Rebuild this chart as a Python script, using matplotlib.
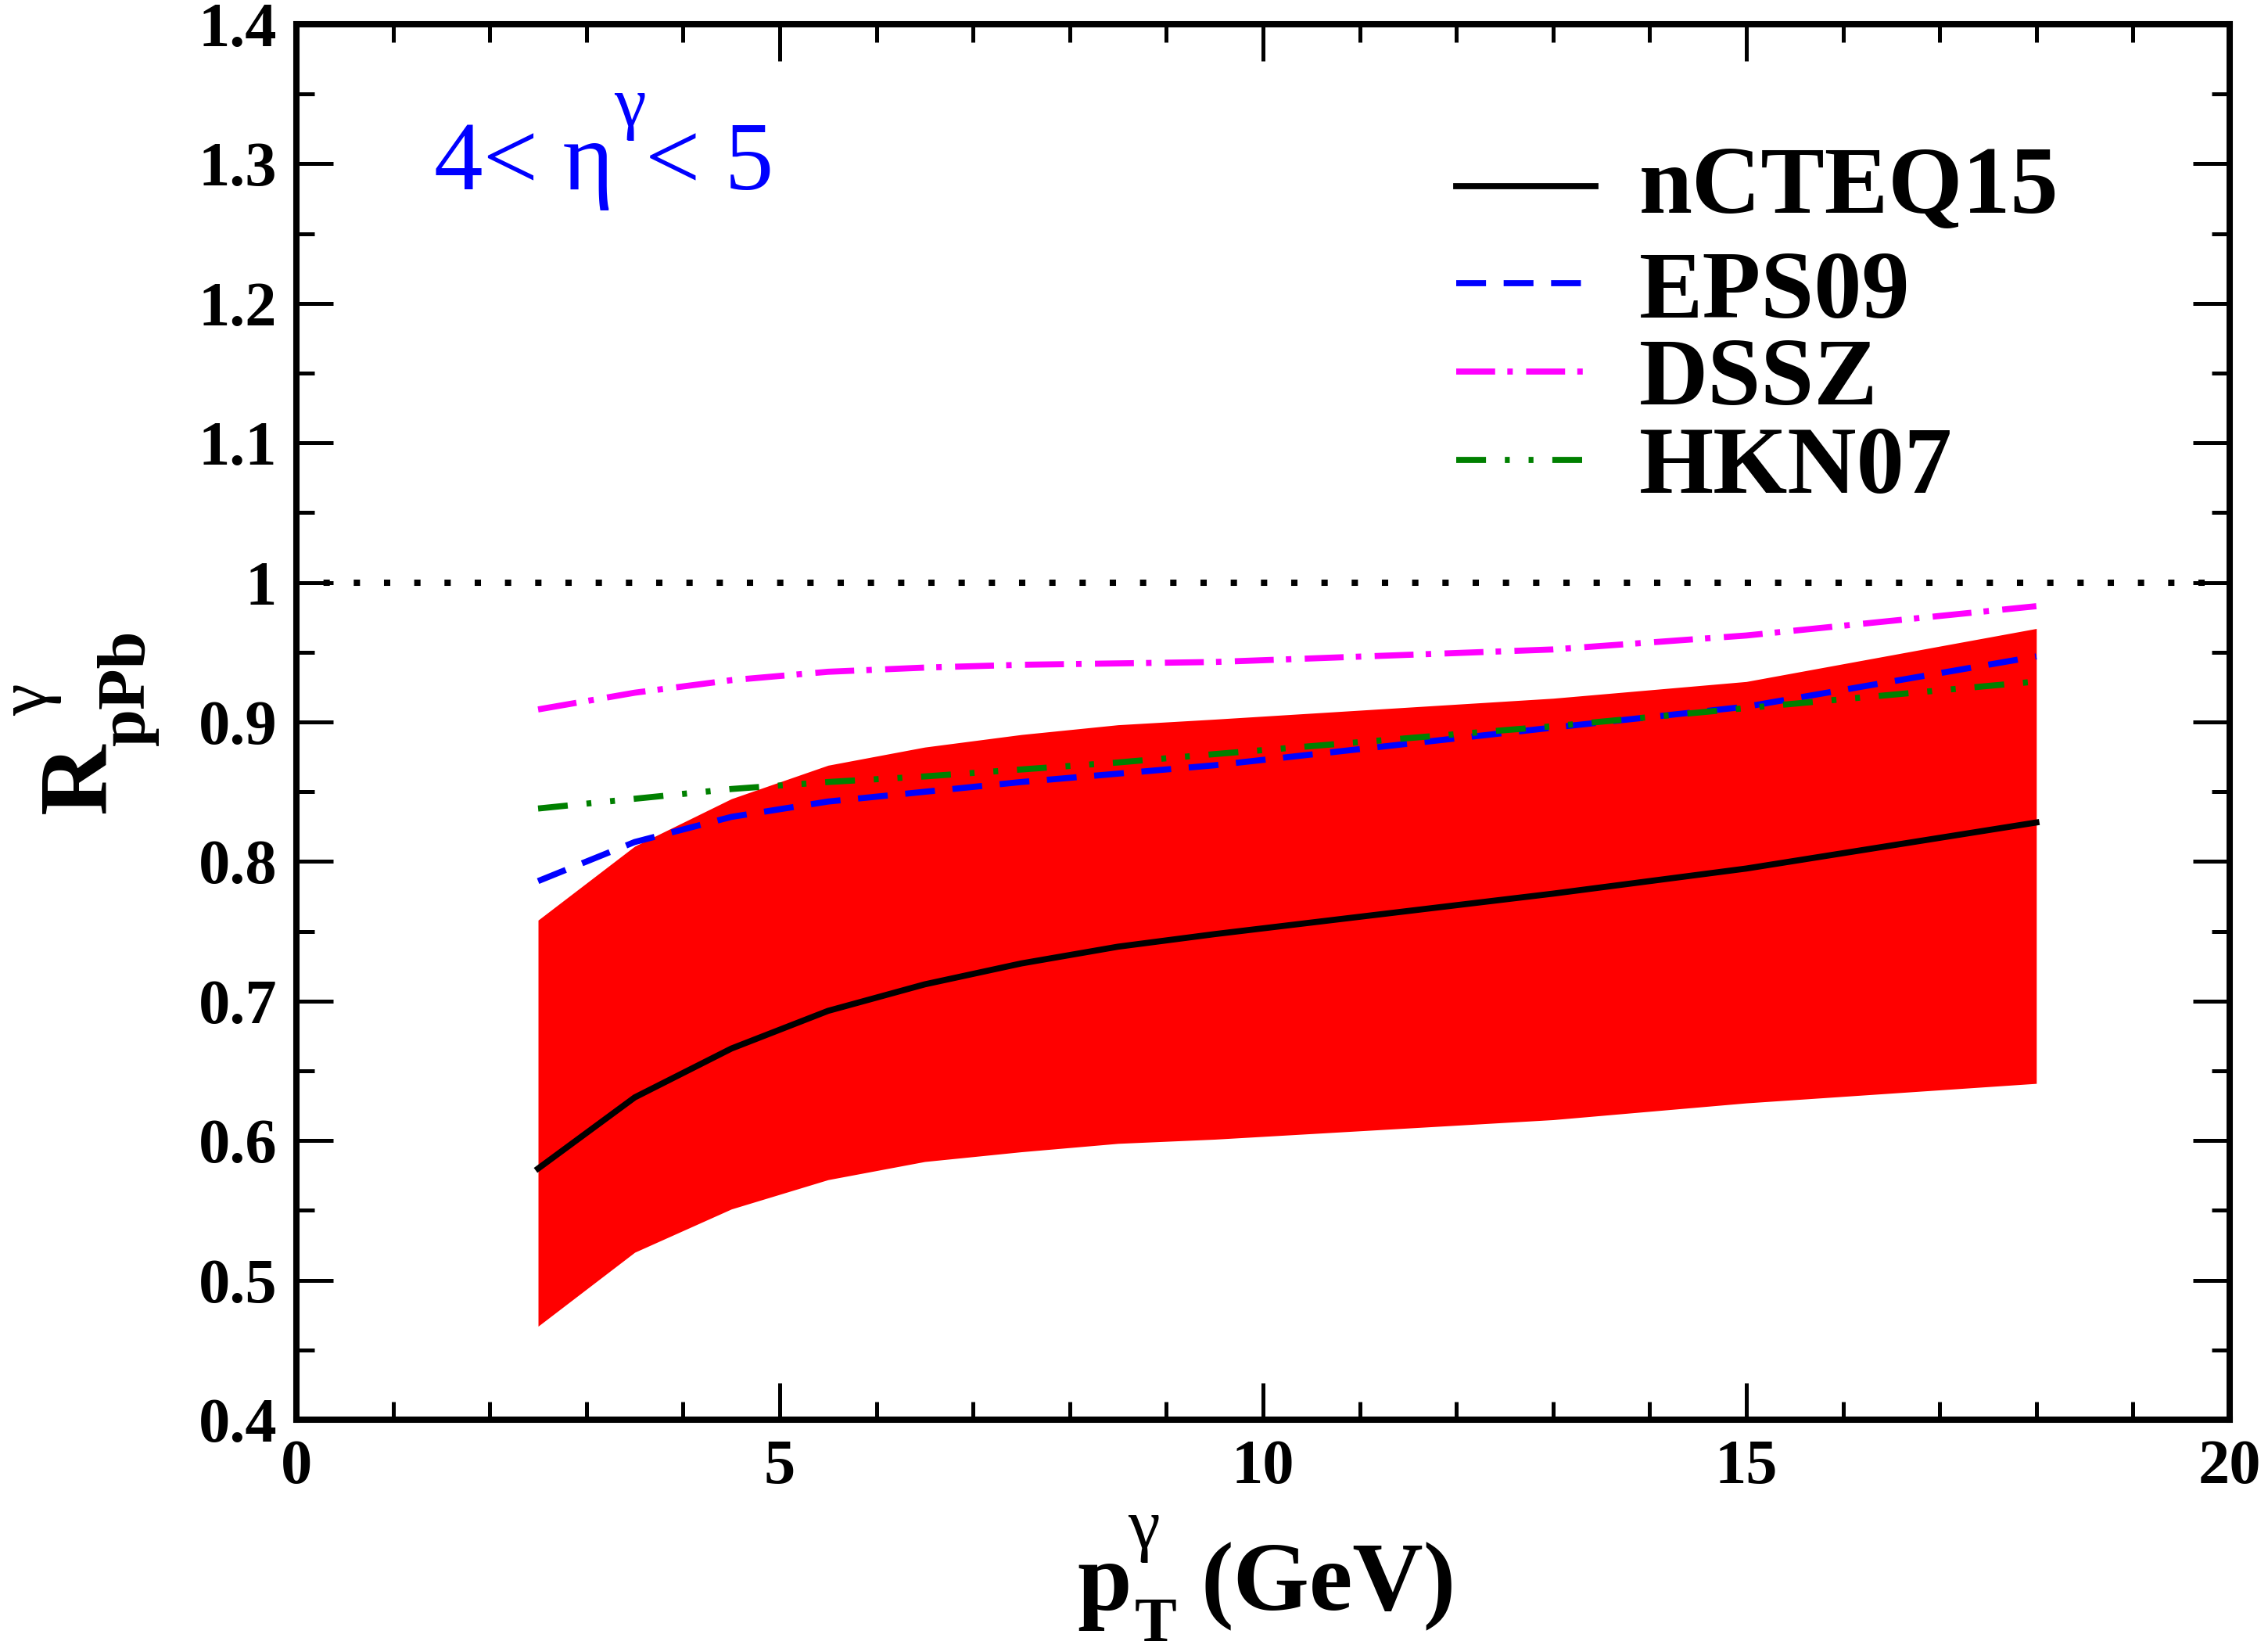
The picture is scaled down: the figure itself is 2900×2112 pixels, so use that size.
import matplotlib
matplotlib.use("Agg")
import matplotlib.pyplot as plt
from matplotlib.lines import Line2D

# photon pT bins (GeV)
pt = [2.5, 3.5, 4.5, 5.5, 6.5, 7.5, 8.5, 9.5, 13, 15, 18]

# R_pPb for each nPDF set
ncteq15 = [0.580, 0.631, 0.666, 0.693, 0.712, 0.727, 0.739, 0.748, 0.777, 0.795, 0.828]
ncteq15_hi = [0.758, 0.811, 0.845, 0.869, 0.882, 0.891, 0.898, 0.902, 0.917, 0.929, 0.967]
ncteq15_lo = [0.467, 0.520, 0.551, 0.572, 0.585, 0.592, 0.598, 0.601, 0.615, 0.627, 0.641]
eps09 = [0.786, 0.814, 0.832, 0.843, 0.850, 0.857, 0.863, 0.869, 0.896, 0.911, 0.947]
dssz = [0.909, 0.921, 0.930, 0.936, 0.939, 0.941, 0.942, 0.943, 0.952, 0.962, 0.983]
hkn07 = [0.838, 0.845, 0.852, 0.857, 0.861, 0.866, 0.871, 0.877, 0.897, 0.910, 0.929]

labels = ["nCTEQ15", "EPS09", "DSSZ", "HKN07"]

plt.rcParams['font.family'] = ['Liberation Serif', 'DejaVu Serif']

fig = plt.figure(figsize=(14.5, 10.56), dpi=200)
ax = fig.add_axes([0.1307, 0.1406, 0.8524, 0.8447])

lw = 2.8
styles = {
    "nCTEQ15": dict(color='black', ls='-'),
    "EPS09": dict(color='#0000ff', ls=(0, (4.9, 2.9))),
    "DSSZ": dict(color='#ff00ff', ls=(0, (6.4, 2.0, 0.9, 2.2))),
    "HKN07": dict(color='#008000', ls=(0, (4.9, 3.1, 0.8, 3.1, 0.8, 3.1))),
}

ax.fill_between(pt, ncteq15_lo, ncteq15_hi, color='#ff0000', lw=0, zorder=1)
for name, vals in zip(labels, [ncteq15, eps09, dssz, hkn07]):
    ax.plot(pt, vals, lw=lw, dash_capstyle='butt', zorder=3, **styles[name])

ax.axhline(1.0, color='black', lw=2.9, ls=(0.5, (1, 3.8)), dash_capstyle='butt', zorder=2)

ax.set_xlim(0, 20)
ax.set_ylim(0.4, 1.4)
ax.set_xticks([0, 5, 10, 15, 20])
ax.set_xticks(range(0, 21), minor=True)
ax.set_yticks([0.4 + 0.1 * i for i in range(11)])
ax.set_yticks([0.45 + 0.1 * i for i in range(10)], minor=True)
ax.set_yticklabels(['0.4', '0.5', '0.6', '0.7', '0.8', '0.9', '1', '1.1', '1.2', '1.3', '1.4'])
ax.tick_params(which='both', direction='in', top=True, right=True, width=1.8)
ax.tick_params(which='major', length=17, pad=9, labelsize=29)
ax.tick_params(which='minor', length=8.4)
for lab in ax.get_xticklabels() + ax.get_yticklabels():
    lab.set_fontweight('bold')
for sp in ax.spines.values():
    sp.set_linewidth(2.9)

# x axis title: p, super gamma, sub T, (GeV)
kw = dict(transform=ax.transAxes, ha='left', va='baseline', clip_on=False)
ax.text(0.4040, -0.1362, 'p', fontsize=45, fontweight='bold', **kw)
ax.text(0.4300, -0.0919, 'γ', fontsize=33, **kw)
ax.text(0.4335, -0.1585, 'T', fontsize=29, fontweight='bold', **kw)
ax.text(0.4680, -0.1362, '(GeV)', fontsize=45, fontweight='bold', **kw)

# y axis title: R, super gamma, sub pPb (rotated)
rkw = dict(transform=ax.transAxes, ha='left', va='baseline', rotation=90,
           rotation_mode='anchor', clip_on=False)
ax.text(-0.0990, 0.4344, 'R', fontsize=45, fontweight='bold', **rkw)
ax.text(-0.0790, 0.4832, 'pPb', fontsize=31, fontweight='bold', **rkw)
ax.text(-0.1290, 0.5045, 'γ', fontsize=33, **rkw)

# rapidity window label
t1 = ax.text(0.0712, 0.8817, '4< η', transform=ax.transAxes, color='#0000ff',
             fontsize=45, va='baseline', ha='left')
t2 = ax.annotate('γ', xy=(1, 0.9271), xycoords=(t1, 'axes fraction'), color='#0000ff',
                 fontsize=33, va='baseline', ha='left')
ax.annotate('< 5', xy=(1, 0.8817), xycoords=(t2, 'axes fraction'), color='#0000ff',
            fontsize=45, va='baseline', ha='left')

# legend drawn by hand to match the row spacing
rows_line = [0.884, 0.8145, 0.751, 0.688]
rows_text = [0.865, 0.790, 0.7276, 0.664]
for name, yl, yt in zip(labels, rows_line, rows_text):
    ax.add_line(Line2D([0.600, 0.672], [yl, yl], transform=ax.transAxes, lw=lw,
                       dash_capstyle='butt', **styles[name]))
    ax.text(0.6946, yt, name, transform=ax.transAxes, fontsize=44, fontweight='bold',
            va='baseline', ha='left')

fig.savefig('out.png', dpi=200)
